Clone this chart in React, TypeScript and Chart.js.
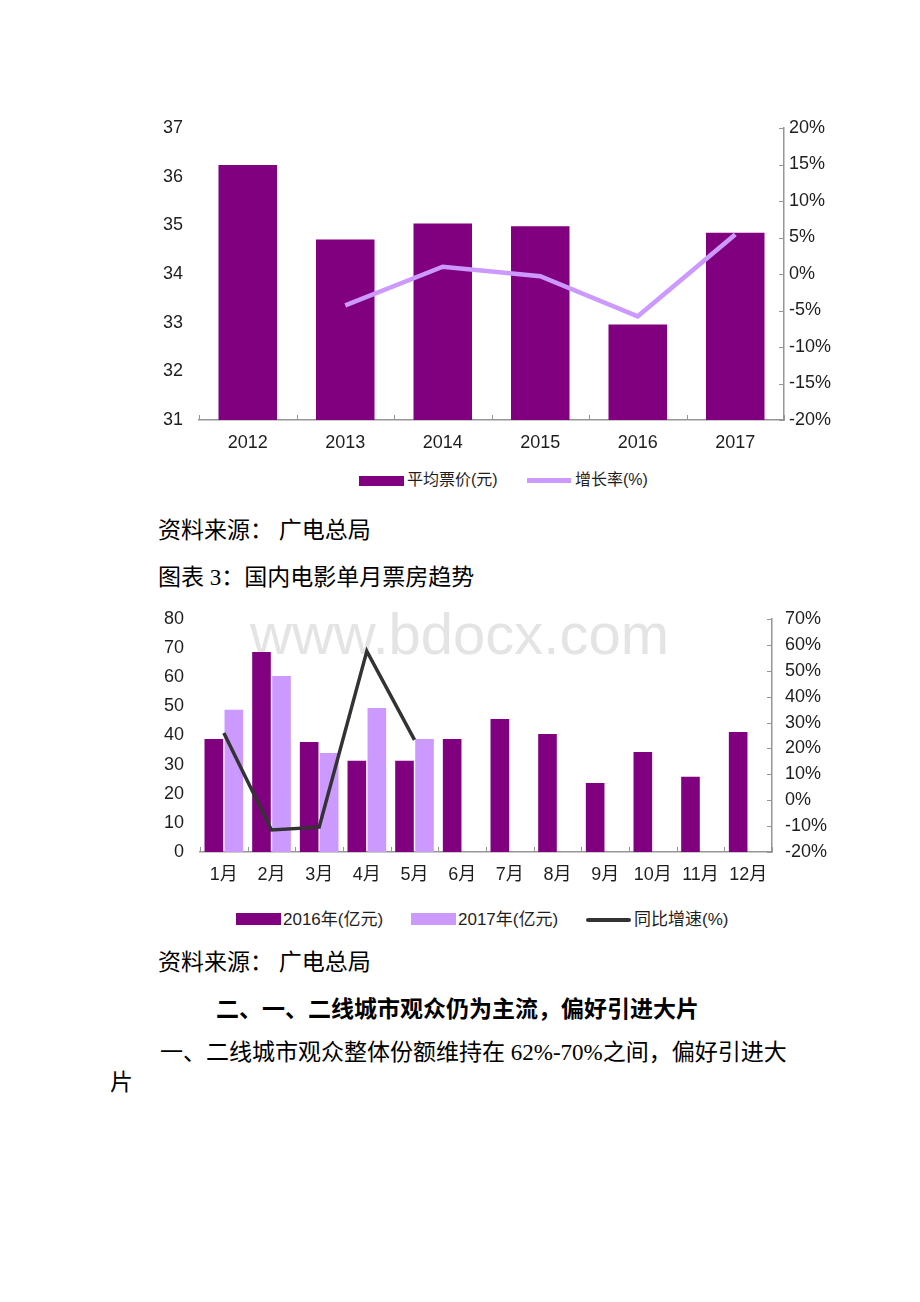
import React, { useEffect, useRef } from "react";
import { Chart, registerables } from "chart.js";

Chart.register(...registerables);

// ---------- data ----------
const years = ["2012", "2013", "2014", "2015", "2016", "2017"];
const avgPrice = [36.24, 34.71, 35.04, 34.98, 32.96, 34.85];
const priceGrowth = [null, -4.3, 1.0, -0.3, -5.8, 5.4];

const months = ["1月", "2月", "3月", "4月", "5月", "6月", "7月", "8月", "9月", "10月", "11月", "12月"];
const box2016 = [38.8, 68.7, 37.8, 31.3, 31.3, 38.8, 45.7, 40.5, 23.7, 34.3, 25.8, 41.2];
const box2017 = [48.8, 60.4, 34.0, 49.4, 38.8, null, null, null, null, null, null, null];
const boxGrowth = [26.0, -11.5, -10.4, 57.6, 23.3, null, null, null, null, null, null, null];

const PURPLE = "#800080";
const LILAC = "#CC99FF";
const DARK = "#333333";
const AXIS = "#969696";
const TICK_TEXT = "#1e1e1e";
const CHART_FONT = "'Liberation Sans', 'Noto Sans CJK SC', Arial, sans-serif";
const DOC_FONT = "'Liberation Serif', 'Noto Sans CJK SC', serif";

const innerTicks = {
  id: "innerTicks",
  afterDraw(chart: any) {
    const ctx = chart.ctx;
    const area = chart.chartArea;
    const xs = chart.scales.x;
    const y1 = chart.scales.y1;
    ctx.save();
    ctx.strokeStyle = AXIS;
    ctx.lineWidth = 1;
    ctx.beginPath();
    y1.ticks.forEach((t: any) => {
      const py = Math.round(y1.getPixelForValue(t.value)) + 0.5;
      ctx.moveTo(area.right - 5, py);
      ctx.lineTo(area.right, py);
    });
    const n = xs.ticks.length;
    for (let i = 0; i <= n; i++) {
      const px = Math.round(area.left + ((area.right - area.left) * i) / n) + 0.5;
      ctx.moveTo(px, area.bottom - 5);
      ctx.lineTo(px, area.bottom);
    }
    ctx.stroke();
    ctx.restore();
  },
};

function makeOptions(cfg: {
  leftW: number;
  rightW: number;
  padTop: number;
  yMin: number;
  yMax: number;
  yStep: number;
  rMin: number;
  rMax: number;
  rStep: number;
  rPad: number;
  fontSize: number;
}) {
  const font = { family: CHART_FONT, size: cfg.fontSize };
  return {
    responsive: false,
    animation: false as const,
    maintainAspectRatio: false,
    layout: { padding: { top: cfg.padTop, left: 0, right: 0, bottom: 0 } },
    plugins: { legend: { display: false }, tooltip: { enabled: false } },
    scales: {
      x: {
        offset: true,
        grid: { display: false, drawTicks: false },
        border: { display: true, color: AXIS, width: 1.5 },
        ticks: { color: TICK_TEXT, font, padding: 12, maxRotation: 0, autoSkip: false },
        afterFit: (s: any) => {
          s.height = 40;
          s.paddingLeft = 0;
          s.paddingRight = 0;
        },
      },
      y: {
        position: "left" as const,
        min: cfg.yMin,
        max: cfg.yMax,
        grid: { display: false, drawTicks: false },
        border: { display: false },
        ticks: { stepSize: cfg.yStep, color: TICK_TEXT, font, padding: 16 },
        afterFit: (s: any) => {
          s.width = cfg.leftW;
          s.paddingTop = 0;
          s.paddingBottom = 0;
        },
      },
      y1: {
        position: "right" as const,
        min: cfg.rMin,
        max: cfg.rMax,
        grid: { display: false, drawTicks: false },
        border: { display: true, color: AXIS, width: 1.5 },
        ticks: {
          stepSize: cfg.rStep,
          color: TICK_TEXT,
          font,
          padding: cfg.rPad,
          callback: (v: any) => `${v}%`,
        },
        afterFit: (s: any) => {
          s.width = cfg.rightW;
          s.paddingTop = 0;
          s.paddingBottom = 0;
        },
      },
    },
  };
}

function PriceChart() {
  const ref = useRef<HTMLCanvasElement>(null);
  useEffect(() => {
    if (!ref.current) return;
    const chart = new Chart(ref.current, {
      type: "bar",
      data: {
        labels: years,
        datasets: [
          {
            type: "line" as const,
            label: "增长率(%)",
            data: priceGrowth as any,
            yAxisID: "y1",
            borderColor: LILAC,
            borderWidth: 4.5,
            pointRadius: 0,
            tension: 0,
            order: 1,
          },
          {
            type: "bar" as const,
            label: "平均票价(元)",
            data: avgPrice,
            yAxisID: "y",
            backgroundColor: PURPLE,
            categoryPercentage: 1,
            barPercentage: 0.6,
            order: 2,
          },
        ],
      } as any,
      options: makeOptions({
        leftW: 49,
        rightW: 86,
        padTop: 18,
        yMin: 31,
        yMax: 37,
        yStep: 1,
        rMin: -20,
        rMax: 20,
        rStep: 5,
        rPad: 5,
        fontSize: 18,
      }) as any,
      plugins: [innerTicks],
    });
    return () => chart.destroy();
  }, []);
  return (
    <canvas
      ref={ref}
      width={720}
      height={350}
      style={{ position: "absolute", left: 150, top: 110, width: 720, height: 350 }}
    />
  );
}

function MonthlyChart() {
  const ref = useRef<HTMLCanvasElement>(null);
  useEffect(() => {
    if (!ref.current) return;
    const chart = new Chart(ref.current, {
      type: "bar",
      data: {
        labels: months,
        datasets: [
          {
            type: "line" as const,
            label: "同比增速(%)",
            data: boxGrowth as any,
            yAxisID: "y1",
            borderColor: DARK,
            borderWidth: 3.5,
            pointRadius: 0,
            tension: 0,
            order: 1,
          },
          {
            type: "bar" as const,
            label: "2016年(亿元)",
            data: box2016,
            yAxisID: "y",
            backgroundColor: PURPLE,
            categoryPercentage: 0.84,
            barPercentage: 0.93,
            order: 2,
          },
          {
            type: "bar" as const,
            label: "2017年(亿元)",
            data: box2017 as any,
            yAxisID: "y",
            backgroundColor: LILAC,
            categoryPercentage: 0.84,
            barPercentage: 0.93,
            order: 3,
          },
        ],
      } as any,
      options: makeOptions({
        leftW: 50,
        rightW: 98,
        padTop: 19,
        yMin: 0,
        yMax: 80,
        yStep: 10,
        rMin: -20,
        rMax: 70,
        rStep: 10,
        rPad: 13,
        fontSize: 18,
      }) as any,
      plugins: [innerTicks],
    });
    return () => chart.destroy();
  }, []);
  return (
    <canvas
      ref={ref}
      width={720}
      height={292}
      style={{ position: "absolute", left: 150, top: 600, width: 720, height: 292 }}
    />
  );
}

const docText: React.CSSProperties = {
  position: "absolute",
  fontFamily: DOC_FONT,
  fontSize: 23,
  lineHeight: "30px",
  color: "#000",
  whiteSpace: "nowrap",
};

const legendText: React.CSSProperties = {
  position: "absolute",
  fontFamily: CHART_FONT,
  fontSize: 16,
  lineHeight: "20px",
  color: "#1e1e1e",
  whiteSpace: "nowrap",
};

export default function App() {
  return (
    <div
      style={{
        position: "absolute",
        left: 0,
        top: 0,
        width: 920,
        height: 1302,
        background: "#fff",
        overflow: "hidden",
      }}
    >
      <PriceChart />
      {/* legend chart 1 */}
      <div style={{ position: "absolute", left: 359, top: 476, width: 45, height: 10, background: PURPLE }} />
      <div style={{ ...legendText, left: 407, top: 470 }}>平均票价(元)</div>
      <div style={{ position: "absolute", left: 527, top: 478, width: 44, height: 5, background: LILAC }} />
      <div style={{ ...legendText, left: 575, top: 470 }}>增长率(%)</div>

      <div style={{ ...docText, left: 158, top: 516 }}>资料来源： 广电总局</div>
      <div style={{ ...docText, left: 158, top: 563 }}>图表 3：国内电影单月票房趋势</div>

      <div
        style={{
          position: "absolute",
          left: 250,
          top: 605,
          fontFamily: "'Liberation Sans', Arial, sans-serif",
          fontSize: 58,
          lineHeight: "58px",
          color: "#e4e4e4",
          whiteSpace: "nowrap",
        }}
      >
        www.bdocx.com
      </div>
      <MonthlyChart />
      {/* legend chart 2 */}
      <div style={{ position: "absolute", left: 236, top: 913, width: 45, height: 12, background: PURPLE }} />
      <div style={{ ...legendText, fontSize: 17, left: 283, top: 910 }}>2016年(亿元)</div>
      <div style={{ position: "absolute", left: 411, top: 913, width: 45, height: 12, background: LILAC }} />
      <div style={{ ...legendText, fontSize: 17, left: 458, top: 910 }}>2017年(亿元)</div>
      <div style={{ position: "absolute", left: 586, top: 918, width: 45, height: 4, background: DARK, borderRadius: 2 }} />
      <div style={{ ...legendText, fontSize: 17, left: 634, top: 910 }}>同比增速(%)</div>

      <div style={{ ...docText, left: 158, top: 948 }}>资料来源： 广电总局</div>
      <div style={{ ...docText, left: 216, top: 995, fontWeight: 700 }}>二、一、二线城市观众仍为主流，偏好引进大片</div>
      <div style={{ ...docText, left: 160, top: 1038 }}>一、二线城市观众整体份额维持在 62%-70%之间，偏好引进大</div>
      <div style={{ ...docText, left: 110, top: 1068 }}>片</div>
    </div>
  );
}
